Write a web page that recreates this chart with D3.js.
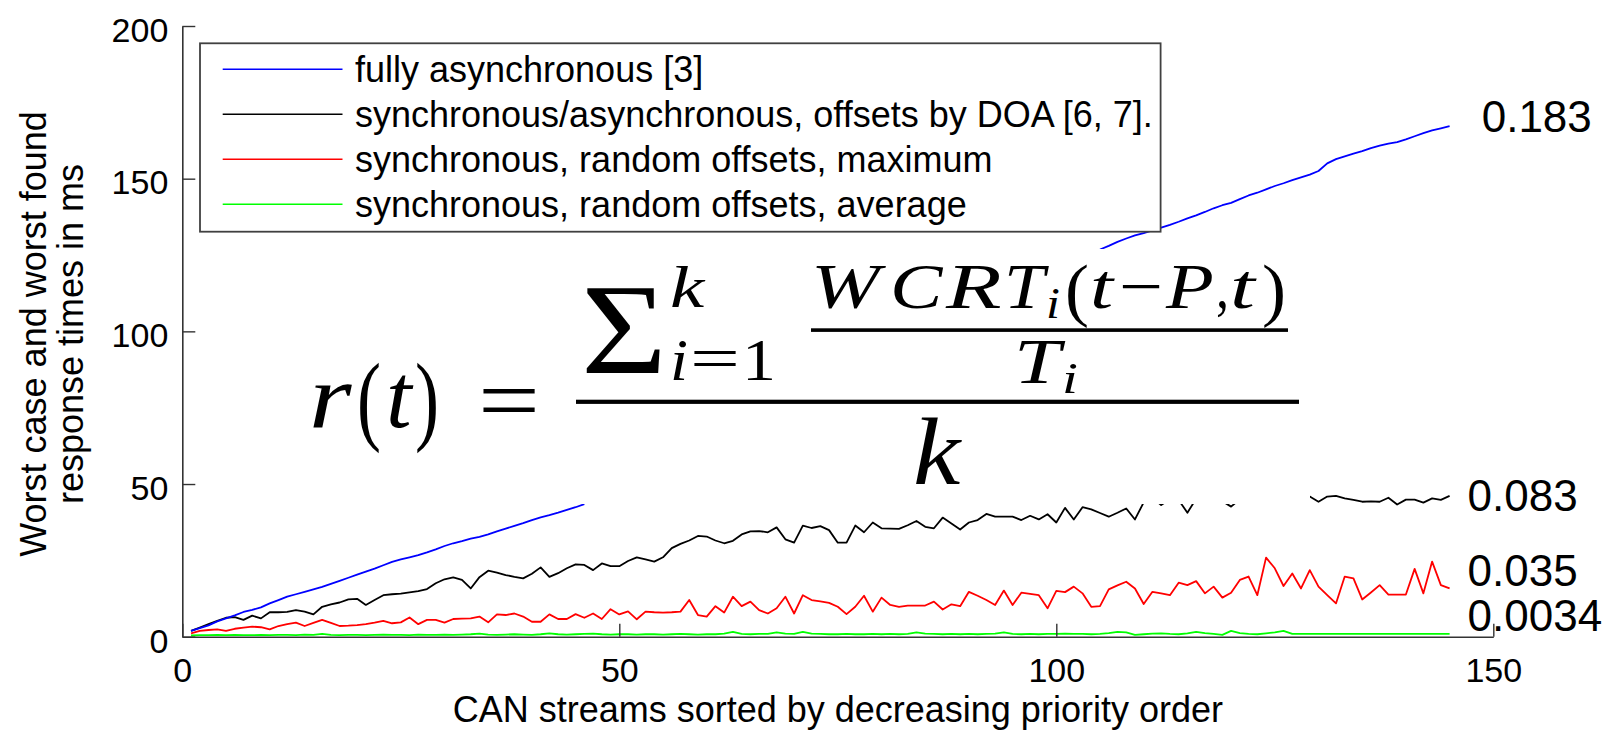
<!DOCTYPE html>
<html>
<head>
<meta charset="utf-8">
<script src="https://cdn.jsdelivr.net/npm/d3@7"></script>
<style>
  html, body { margin: 0; padding: 0; background: #fff; }
  svg { display: block; }
</style>
</head>
<body>
<svg id="chart" width="1624" height="730"></svg>
<script>
// ---------------- data ----------------
// stream index (decreasing priority order)
const streams = d3.range(1, 146);

// fully asynchronous: response times (ms); null where the value is not shown
const fullyAsync = [
  1.9, 2.8, 3.7, 5.0, 6.0, 7.0, 8.1, 8.8, 9.6, 10.9,
  12.0, 13.1, 13.9, 14.7, 15.5, 16.3, 17.3, 18.3, 19.3, 20.3,
  21.3, 22.3, 23.4, 24.5, 25.3, 26.0, 26.7, 27.6, 28.6, 29.7,
  30.6, 31.3, 32.1, 32.7, 33.5, 34.5, 35.4, 36.3, 37.2, 38.2,
  39.1, 39.8, 40.6, 41.5, 42.4, 43.4,
  null, null, null, null, null, null, null, null, null, null,
  null, null, null, null, null, null, null, null, null, null,
  null, null, null, null, null, null, null, null, null, null,
  null, null, null, null, null, null, null, null, null, null,
  null, null, null, null, null, null, null, null, null, null,
  null, null, null, null, null, null, null, null,
  126.8, 128.0, 129.3, 130.4, 131.4, 132.2, 133.1, 134.0, 134.9, 135.9,
  137.0, 138.0, 139.1, 140.3, 141.3, 142.1, 143.3, 144.5, 145.4, 146.5,
  147.6, 148.5, 149.5, 150.4, 151.3, 152.5, 155.0, 156.4, 157.3, 158.2,
  159.0, 160.0, 160.8, 161.5, 162.0, 162.9, 163.9, 164.9, 165.8, 166.5,
  167.2
];

// synchronous/asynchronous, offsets by DOA
const syncAsyncDOA = [
  1.9, 3.0, 4.1, 5.2, 6.2, 6.4, 5.5, 6.9, 6.0, 8.0,
  8.0, 8.1, 8.7, 8.2, 7.3, 9.8, 10.6, 11.2, 12.2, 12.4,
  10.4, 12.0, 13.6, 13.9, 14.1, 14.5, 14.9, 15.6, 17.5, 18.8,
  19.4, 18.6, 15.8, 19.5, 21.6, 21.0, 20.2, 19.6, 19.1, 20.6,
  22.7, 19.6, 20.8, 22.4, 23.7, 23.5, 21.8, 24.0, 23.1, 23.1,
  24.8, 26.0, 25.3, 24.6, 26.0, 29.0, 30.4, 31.5, 33.0, 32.8,
  31.5, 30.6, 31.4, 33.5, 34.5, 34.6, 34.2, 35.8, 31.9, 30.8,
  36.4, 35.6, 36.2, 34.9, 30.8, 30.8, 36.4, 34.2, 37.4, 35.5,
  35.4, 35.3, 36.5, 37.9, 36.0, 35.5, 39.0, 37.1, 35.1, 37.4,
  38.2, 40.2, 39.3, 39.3, 39.3, 38.2, 39.6, 38.4, 40.1, 37.4,
  42.2, 38.4, 42.4, 41.7, 40.5, 39.3, 40.6, 42.0, 38.4, 44.0,
  45.5, 43.1, 45.0, 44.8, 40.6, 45.2, 44.6, 45.8, 44.4, 42.6,
  45.0, 44.5, 46.0, 45.2, 44.8, 46.0, 45.5, 44.6, 45.9, 44.2,
  45.9, 46.1, 45.3, 44.8, 44.2, 44.3, 44.2, 45.5, 43.3, 44.9,
  44.9, 43.9, 45.3, 44.8, 46.1
];

// synchronous, random offsets, maximum
const syncRandomMax = [
  1.1, 1.9, 2.2, 2.4, 1.9, 2.6, 3.0, 3.3, 3.1, 2.4,
  3.5, 4.1, 4.6, 3.5, 4.5, 5.5, 4.5, 3.5, 3.6, 3.8,
  4.1, 4.6, 5.2, 4.4, 4.7, 6.3, 4.1, 5.5, 5.5, 4.6,
  5.8, 5.9, 6.0, 6.6, 4.7, 7.3, 7.1, 7.6, 6.6, 4.9,
  4.9, 7.3, 5.8, 5.8, 7.4, 6.2, 7.6, 5.8, 9.0, 7.3,
  8.3, 5.7, 8.2, 8.0, 7.9, 8.0, 8.2, 12.0, 7.1, 6.6,
  10.0, 7.9, 13.1, 10.0, 11.5, 8.7, 7.6, 9.3, 13.1, 7.6,
  13.6, 12.0, 11.6, 11.1, 9.8, 7.4, 9.8, 13.4, 8.2, 12.8,
  10.4, 9.8, 10.2, 10.2, 10.2, 11.5, 8.9, 10.6, 10.0, 14.7,
  13.4, 12.0, 10.4, 15.1, 10.4, 14.4, 14.0, 13.6, 9.3, 15.0,
  14.6, 16.4, 14.2, 9.8, 10.0, 15.5, 16.8, 18.0, 15.8, 10.7,
  14.7, 14.2, 13.6, 17.7, 16.9, 18.2, 14.2, 16.4, 12.8, 14.4,
  18.6, 19.7, 13.6, 25.9, 22.4, 16.6, 20.7, 15.8, 21.8, 16.4,
  13.6, 10.9, 19.7, 19.1, 12.2, 14.5, 16.9, 13.8, 13.8, 13.8,
  22.2, 14.2, 24.6, 16.9, 15.8
];

// synchronous, random offsets, average
const syncRandomAvg = [
  0.4, 0.5, 0.5, 0.6, 0.5, 0.6, 0.5, 0.5, 0.6, 0.5,
  0.6, 0.6, 0.5, 0.7, 0.6, 0.9, 0.6, 0.5, 0.6, 0.6,
  0.5, 0.6, 0.7, 0.6, 0.6, 0.5, 0.7, 0.6, 0.6, 0.7,
  0.6, 0.7, 0.8, 1.0, 0.7, 0.6, 0.7, 0.8, 0.7, 0.6,
  0.8, 1.1, 0.8, 0.7, 0.8, 0.9, 1.0, 0.8, 0.7, 0.8,
  0.8, 0.7, 0.8, 0.8, 0.7, 0.8, 0.9, 0.8, 0.7, 0.8,
  0.8, 1.0, 1.6, 0.9, 0.8, 0.9, 0.9, 1.4, 1.0, 0.9,
  1.6, 1.0, 0.9, 0.8, 0.8, 0.9, 0.8, 0.8, 0.9, 0.8,
  0.9, 0.8, 0.9, 1.4, 1.0, 0.9, 0.8, 0.9, 0.8, 0.9,
  0.8, 0.9, 1.0, 1.4, 0.9, 0.8, 0.9, 0.8, 0.9, 0.9,
  1.0, 0.9, 0.9, 0.8, 0.9, 1.2, 1.6, 1.4, 0.6, 0.8,
  1.0, 1.1, 0.9, 0.8, 1.1, 1.6, 1.2, 0.9, 0.6, 1.9,
  1.2, 0.9, 0.8, 1.1, 1.4, 1.9, 0.9, 0.9, 0.9, 0.9,
  0.9, 0.9, 0.9, 0.9, 0.9, 0.9, 0.9, 0.9, 0.9, 0.9,
  0.9, 0.9, 0.9, 0.9, 0.9
];

const seriesNames = [
  "fully asynchronous [3]",
  "synchronous/asynchronous, offsets by DOA [6, 7].",
  "synchronous, random offsets, maximum",
  "synchronous, random offsets, average"
];
const seriesColors = ["#0000ff", "#000000", "#ff0000", "#00ff00"];
// mean response-time ratio r(t) per configuration
const ratioLabels = ["0.183", "0.083", "0.035", "0.0034"];

const xTicks = [0, 50, 100, 150];
const yTicks = [0, 50, 100, 150, 200];
const xTitle = "CAN streams sorted by decreasing priority order";
const yTitle = ["Worst case and worst found", "response times in ms"];

// ---------------- layout ----------------
const plot = { left: 182.3, right: 1493.3, top: 26, bottom: 636.7 };
const axisColor = "#333";
const sans = "'Liberation Sans', Arial, Helvetica, sans-serif";
const serif = "'Liberation Serif', 'Times New Roman', serif";
// vertical anchors of the ratio labels, in data units
const ratioAnchor = [170.2, 46.2, 21.6, 6.9];
const ratioX = [1481.7, 1467.6, 1467.6, 1467.6];

const svg = d3.select("#chart");

const x = d3.scaleLinear().domain([0, 150]).range([plot.left, plot.right]);
const y = d3.scaleLinear().domain([0, 200]).range([plot.bottom, plot.top]);

// ---------------- series lines ----------------
const seriesData = [fullyAsync, syncAsyncDOA, syncRandomMax, syncRandomAvg];
const line = d3.line()
  .defined(d => d.v !== null)
  .x(d => x(d.s))
  .y(d => y(d.v));

[3, 2, 1, 0].forEach(i => {
  const pts = streams.map((s, k) => ({ s, v: seriesData[i][k] }));
  svg.append("path")
    .attr("d", line(pts))
    .attr("fill", "none")
    .attr("stroke", seriesColors[i])
    .attr("stroke-width", 1.8)
    .attr("stroke-linejoin", "round");
});

// ---------------- axes ----------------
const xAxis = d3.axisBottom(x).tickValues(xTicks).tickSizeInner(-13).tickSizeOuter(0).tickPadding(21);
const yAxis = d3.axisLeft(y).tickValues(yTicks).tickSizeInner(-13).tickSizeOuter(0).tickPadding(14);

const gx = svg.append("g").attr("transform", `translate(0,${plot.bottom})`).call(xAxis);
const gy = svg.append("g").attr("transform", `translate(${plot.left},0)`).call(yAxis);

[gx, gy].forEach(g => {
  g.select(".domain").attr("stroke", axisColor).attr("stroke-width", 1.6);
  g.selectAll(".tick line").attr("stroke", axisColor).attr("stroke-width", 1.4);
  g.selectAll(".tick text")
    .attr("fill", "#000")
    .style("font-family", sans)
    .style("font-size", "34px");
});
gy.selectAll(".tick text").attr("dy", "0.45em");

// axis titles
svg.append("text")
  .attr("x", (plot.left + plot.right) / 2)
  .attr("y", 722)
  .attr("text-anchor", "middle")
  .style("font-family", sans)
  .style("font-size", "36px")
  .text(xTitle);

const yTitleG = svg.append("g").attr("transform", "translate(0,334) rotate(-90)");
yTitle.forEach((t, i) => {
  yTitleG.append("text")
    .attr("x", 0)
    .attr("y", i === 0 ? 46 : 83)
    .attr("text-anchor", "middle")
    .style("font-family", sans)
    .style("font-size", "36px")
    .text(t);
});

// ---------------- ratio labels at the line ends ----------------
ratioLabels.forEach((t, i) => {
  svg.append("text")
    .attr("x", ratioX[i])
    .attr("y", y(ratioAnchor[i]))
    .attr("dy", "0.35em")
    .style("font-family", sans)
    .style("font-size", "44px")
    .text(t);
});

// ---------------- legend ----------------
const legend = svg.append("g");
legend.append("rect")
  .attr("x", 200).attr("y", 43.3)
  .attr("width", 960.6).attr("height", 188.4)
  .attr("fill", "#fff")
  .attr("stroke", "#404040")
  .attr("stroke-width", 1.8);
seriesNames.forEach((name, i) => {
  const cy = 69.3 + i * 45;
  legend.append("line")
    .attr("x1", 222.7).attr("x2", 342.5)
    .attr("y1", cy).attr("y2", cy)
    .attr("stroke", seriesColors[i])
    .attr("stroke-width", 1.5);
  legend.append("text")
    .attr("x", 355)
    .attr("y", cy + 13)
    .style("font-family", sans)
    .style("font-size", "36px")
    .text(name);
});

// ---------------- formula panel ----------------
const fm = svg.append("g");
fm.append("rect")
  .attr("x", 290).attr("y", 249)
  .attr("width", 1020).attr("height", 255)
  .attr("fill", "#fff");

// one glyph (optionally with a subscript), stretched horizontally to a given width
function glyph(txt, gx0, gy0, size, italic, w, sub) {
  const t = fm.append("text")
    .attr("x", 0).attr("y", 0)
    .style("font-family", serif)
    .style("font-size", size + "px")
    .style("font-style", italic ? "italic" : "normal");
  t.append("tspan").text(txt);
  if (sub) {
    t.append("tspan")
      .attr("dx", size * 0.02)
      .attr("dy", size * 0.16)
      .style("font-size", Math.round(size * 0.69) + "px")
      .text(sub);
  }
  let sx = 1;
  if (w) {
    const bw = t.node().getBBox().width;
    if (bw > 0) sx = w / bw;
  }
  t.attr("transform", `translate(${gx0},${gy0}) scale(${sx},1)`);
}

// r(t) =
glyph("r", 309, 427, 92, true, 44);
glyph("(", 357, 432, 100, false, 24);
glyph("t", 386, 427, 92, true, 28);
glyph(")", 415, 432, 100, false, 24);
glyph("=", 478, 431, 92, false, 62);

// main fraction bar
fm.append("rect").attr("x", 576).attr("y", 399.7).attr("width", 723).attr("height", 4.2).attr("fill", "#000");

// sum with limits
glyph("\u03A3", 581, 373, 130, false, 86);
glyph("k", 670, 307, 60, true, 36);
glyph("i", 670, 380, 60, true, 18);
glyph("=", 690, 378, 60, false, 50);
glyph("1", 742, 380, 60, false, 34);

// inner fraction: WCRT_i(t-P,t) / T_i
fm.append("rect").attr("x", 811).attr("y", 328.3).attr("width", 477).attr("height", 3.6).attr("fill", "#000");
glyph("W", 811, 308, 64, true, 76);
glyph("C", 890, 308, 64, true, 54);
glyph("R", 946, 308, 64, true, 57);
glyph("T", 1004, 308, 64, true, 56, "i");
glyph("(", 1065, 313, 70, false, 24);
glyph("t", 1090, 308, 64, true, 26);
glyph("\u2212", 1119, 308, 64, false, 44);
glyph("P", 1166, 308, 64, true, 49);
glyph(",", 1216, 308, 64, false, 13);
glyph("t", 1230, 308, 64, true, 28);
glyph(")", 1262, 313, 70, false, 24);

glyph("T", 1014, 383, 64, true, 64, "i");

glyph("k", 913, 484, 96, true, 50);
</script>
</body>
</html>
